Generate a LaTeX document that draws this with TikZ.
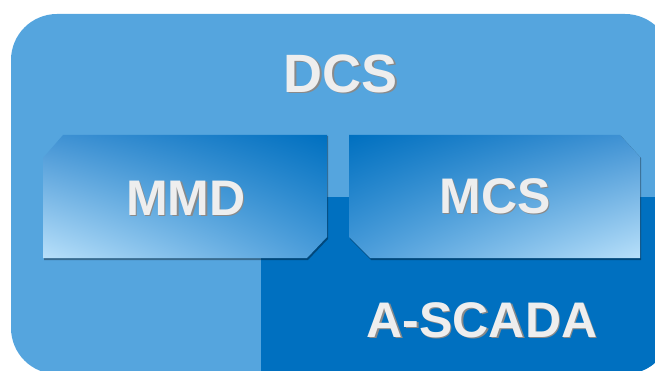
\documentclass[tikz,border=0pt]{standalone}
\usepackage{fontspec}
\setmainfont{Liberation Sans}
\usetikzlibrary{shadings}
\definecolor{bglight}{HTML}{55A5DE}
\definecolor{bgdark}{HTML}{0070C0}
\definecolor{gradlight}{HTML}{B8E0FA}
\definecolor{gradmidA}{HTML}{4293D4}
\definecolor{gradmidB}{HTML}{4A9CDA}
\definecolor{txtshadow}{HTML}{8A8A8A}
\definecolor{txtfill}{HTML}{EEEEEE}
\tikzset{
  embossshadow/.style={inner sep=0pt, text=txtshadow, font=\bfseries\fontsize{#1}{#1}\selectfont},
  embosstext/.style={inner sep=0pt, text=txtfill, font=\bfseries\fontsize{#1}{#1}\selectfont},
  boxshadow/.style={fill=black, opacity=0.35}
}
\begin{document}
\begin{tikzpicture}[x=1pt,y=-1pt]
\useasboundingbox (0,0) rectangle (655,371);
\clip (0,0) rectangle (655,371);
% outer DCS area
\fill[bglight, rounded corners=46pt] (11,14) rectangle (671,374);
% A-SCADA area
\begin{scope}
  \clip[rounded corners=46pt] (11,14) rectangle (671,374);
  \fill[bgdark] (261,197) rectangle (680,380);
\end{scope}
% box shadows
\fill[boxshadow] (44,159) -- (64,136) -- (328,136) -- (328,239) -- (308,260) -- (44,260) -- cycle;
\fill[boxshadow] (350,136) -- (621,136) -- (641,158) -- (641,260) -- (371,260) -- (350,239) -- cycle;
% MMD box
\shade[upper left=gradmidA, upper right=bgdark, lower left=gradlight, lower right=gradmidB]
  (43,158) -- (63,135) -- (327,135) -- (327,237) -- (307,258) -- (43,258) -- cycle;
% MCS box
\shade[upper left=bgdark, upper right=gradmidA, lower left=gradmidB, lower right=gradlight]
  (349,135) -- (620,135) -- (640,157) -- (640,258) -- (370,258) -- (349,237) -- cycle;
% texts
\node[embossshadow=54] at (342.3,75.3) {DCS};
\node[embosstext=54] (dcs) at (341,74) {DCS};
\node[embossshadow=50] at (187.3,199.3) {MMD};
\node[embosstext=50] (mmd) at (186,198) {MMD};
\node[embossshadow=50] at (496.3,197.3) {MCS};
\node[embosstext=50] (mcs) at (495,196) {MCS};
\node[embossshadow=50] at (483.3,321.3) {A-SCADA};
\node[embosstext=50] (ascada) at (482,320) {A-SCADA};
\end{tikzpicture}
\end{document}
